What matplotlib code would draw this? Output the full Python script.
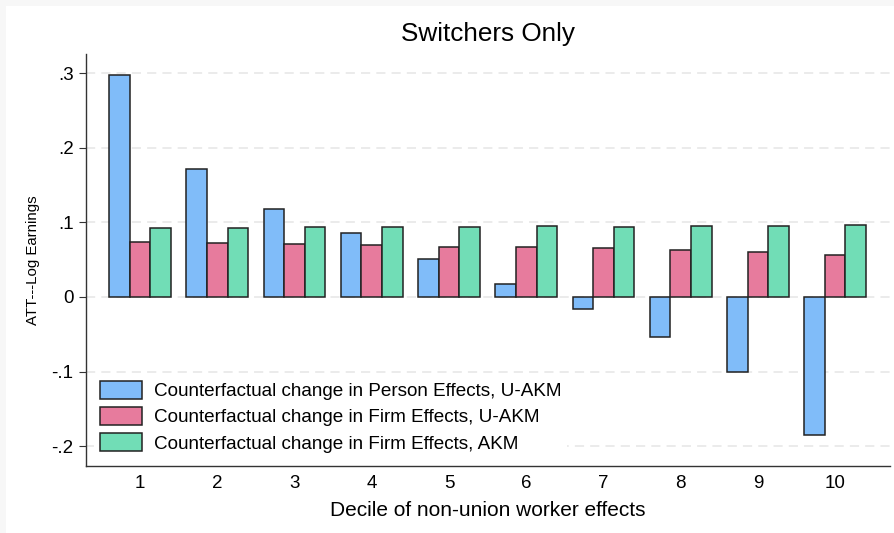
import numpy as np
import matplotlib.pyplot as plt
from matplotlib.patches import Rectangle

plt.rcParams['font.family'] = ['Liberation Sans', 'DejaVu Sans']

deciles = np.arange(1, 11)
person_uakm = [0.298, 0.172, 0.1175, 0.0855, 0.0515, 0.017, -0.0165, -0.0535, -0.1, -0.185]
firm_uakm = [0.0737, 0.0723, 0.0714, 0.069, 0.0674, 0.0665, 0.065, 0.0634, 0.0603, 0.0563]
firm_akm = [0.0924, 0.0924, 0.0933, 0.0933, 0.0937, 0.0946, 0.094, 0.0946, 0.0955, 0.0964]
labels = ['Counterfactual change in Person Effects, U-AKM',
          'Counterfactual change in Firm Effects, U-AKM',
          'Counterfactual change in Firm Effects, AKM']
colors = ['#80BCF9', '#E77B9D', '#71DDB6']

fig = plt.figure(figsize=(8.94, 5.33), dpi=100)
fig.patch.set_facecolor('#f7f7f7')
fig.patches.append(Rectangle((6 / 894, 0), 1, 1 - 6 / 533, transform=fig.transFigure,
                             facecolor='white', edgecolor='none', zorder=-10))
ax = fig.add_axes([0.0962, 0.1263, 0.8993, 0.7724])
ax.set_facecolor('none')

w = 0.267
for i, (vals, c, lab) in enumerate(zip([person_uakm, firm_uakm, firm_akm], colors, labels)):
    ax.bar(deciles + (i - 1) * w, vals, width=w, color=c, edgecolor='#222222',
           linewidth=1.1, label=lab, zorder=3)

ax.set_xlim(0.3, 10.71)
ax.set_ylim(-0.226, 0.3255)
yt = [-0.2, -0.1, 0, 0.1, 0.2, 0.3]
ax.set_yticks(yt)
ax.set_yticklabels(['-.2', '-.1', '0', '.1', '.2', '.3'])
ax.set_xticks(deciles)
ax.tick_params(axis='x', length=0, pad=7, labelsize=13.5)
ax.tick_params(axis='y', length=5, width=0.8, pad=4, labelsize=13.5, color='#333333')
ax.grid(axis='y', color='#e6e6e6', linestyle=(0, (6, 4)), linewidth=1.1, zorder=0)

for s in ['top', 'right']:
    ax.spines[s].set_visible(False)
for s in ['left', 'bottom']:
    ax.spines[s].set_color('#333333')
    ax.spines[s].set_linewidth(1.0)

ax.set_title('Switchers Only', fontsize=18.8, pad=9)
ax.set_xlabel('Decile of non-union worker effects', fontsize=15, labelpad=6)
ax.set_ylabel('ATT---Log Earnings', fontsize=10.8, labelpad=8)

leg = ax.legend(loc='lower left', bbox_to_anchor=(-0.002, -0.005), fontsize=13.6,
                frameon=True, fancybox=False, edgecolor='none', facecolor='white',
                framealpha=1, handlelength=2.27, handleheight=1.1,
                handletextpad=0.62, labelspacing=0.36, borderpad=0.3)
leg.set_zorder(5)

fig.savefig('out.png', dpi=100)
